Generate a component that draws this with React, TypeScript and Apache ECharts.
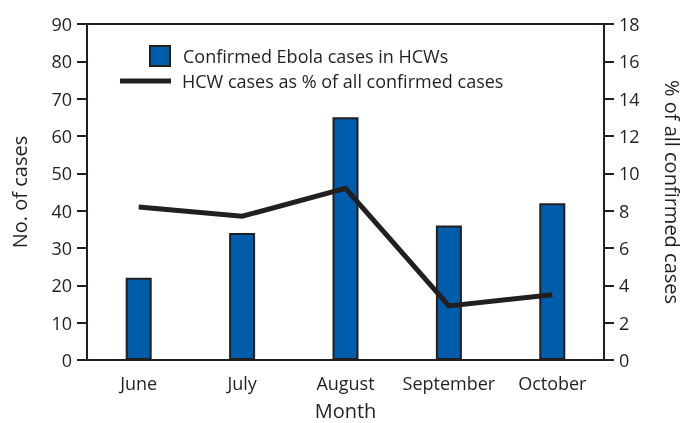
import React, { useEffect, useRef } from "react";
import * as echarts from "echarts";

const months = ["June", "July", "August", "September", "October"];
const hcwCases = [22, 34, 65, 36, 42];
const hcwPercent = [8.2, 7.7, 9.2, 2.9, 3.5];
const barName = "Confirmed Ebola cases in HCWs";
const lineName = "HCW cases as % of all confirmed cases";

const FONT = "'Open Sans', sans-serif";
const INK = "#231f20";

export default function App() {
  const ref = useRef<HTMLDivElement>(null);
  useEffect(() => {
    if (!ref.current) return;
    const chart = echarts.init(ref.current, null, { renderer: "svg" });
    chart.setOption({
      animation: false,
      textStyle: { fontFamily: FONT, color: INK },
      grid: {
        left: 87,
        right: 81,
        top: 24,
        bottom: 63,
        outerBoundsMode: "none",
        containLabel: false,
        show: true,
        borderColor: INK,
        borderWidth: 2,
        backgroundColor: "transparent",
      },
      legend: [
        {
          data: [{ name: barName, icon: "rect" }],
          left: 149,
          top: 45,
          padding: 0,
          itemWidth: 20,
          itemHeight: 20,
          textStyle: { fontFamily: FONT, fontSize: 18, color: INK, padding: [0, 0, 0, 8] },
          selectedMode: false,
        },
        {
          data: [{ name: lineName, icon: "rect" }],
          left: 120,
          top: 72,
          padding: 0,
          itemWidth: 51,
          itemHeight: 5,
          textStyle: { fontFamily: FONT, fontSize: 18, color: INK, padding: [0, 0, 0, 6] },
          selectedMode: false,
        },
      ],
      xAxis: {
        type: "category",
        data: months,
        boundaryGap: true,
        name: "Month",
        nameLocation: "middle",
        nameGap: 40,
        nameTextStyle: { fontFamily: FONT, fontSize: 20, color: INK },
        axisLine: { lineStyle: { color: INK, width: 2 } },
        axisTick: { alignWithLabel: true, interval: 0, length: 9, lineStyle: { color: INK, width: 2 } },
        axisLabel: { interval: 0, fontFamily: FONT, fontSize: 18, color: INK, margin: 14 },
      },
      yAxis: [
        {
          type: "value",
          min: 0,
          max: 90,
          interval: 10,
          name: "No. of cases",
          nameLocation: "middle",
          nameGap: 58,
          nameTextStyle: { fontFamily: FONT, fontSize: 20, color: INK },
          axisLine: { show: true, lineStyle: { color: INK, width: 2 } },
          axisTick: { show: true, length: 10, lineStyle: { color: INK, width: 2 } },
          axisLabel: { fontFamily: FONT, fontSize: 18, color: INK, margin: 15 },
          splitLine: { show: false },
        },
        {
          type: "value",
          min: 0,
          max: 18,
          interval: 2,
          position: "right",
          name: "% of all confirmed cases",
          nameLocation: "middle",
          nameRotate: -90,
          nameGap: 58,
          nameTextStyle: { fontFamily: FONT, fontSize: 20, color: INK },
          axisLine: { show: true, lineStyle: { color: INK, width: 2 } },
          axisTick: { show: true, length: 10, lineStyle: { color: INK, width: 2 } },
          axisLabel: { fontFamily: FONT, fontSize: 18, color: INK, margin: 15 },
          splitLine: { show: false },
        },
      ],
      series: [
        {
          name: barName,
          type: "bar",
          data: hcwCases,
          barWidth: 26,
          itemStyle: { color: "#005dab", borderColor: INK, borderWidth: 2 },
          z: 2,
        },
        {
          name: lineName,
          type: "line",
          yAxisIndex: 1,
          data: hcwPercent,
          symbol: "none",
          lineStyle: { color: INK, width: 5, join: "miter" },
          itemStyle: { color: INK },
          z: 3,
        },
      ],
    });
    return () => chart.dispose();
  }, []);
  return (
    <div
      ref={ref}
      style={{ position: "fixed", left: 0, top: 0, width: 685, height: 423 }}
    />
  );
}
